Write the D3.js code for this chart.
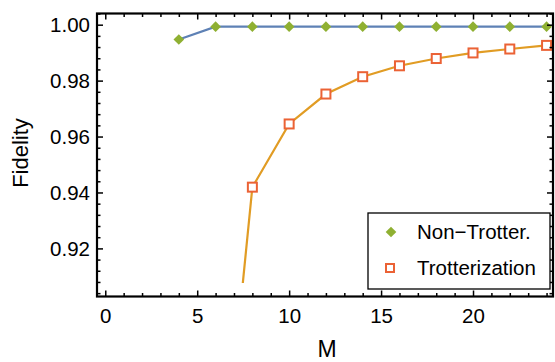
<!DOCTYPE html>
<html>
<head>
<meta charset="utf-8">
<script src="https://cdn.jsdelivr.net/npm/d3@7"></script>
<style>
  body { margin: 0; background: #fff; }
  text { font-family: "Liberation Sans", Arial, sans-serif; }
</style>
</head>
<body>
<div id="chart"></div>
<script>
// data
var mNonTrotter = [4, 6, 8, 10, 12, 14, 16, 18, 20, 22, 24];
var fNonTrotter = [0.9947, 0.9993, 0.9993, 0.9993, 0.9993, 0.9993, 0.9993, 0.9993, 0.9993, 0.9993, 0.9993];
var mTrotter = [6, 8, 10, 12, 14, 16, 18, 20, 22, 24];
var fTrotter = [0.810, 0.9419, 0.9645, 0.9752, 0.9814, 0.9853, 0.9879, 0.9899, 0.9913, 0.9926];
var xMajor = [0, 5, 10, 15, 20];
var yMajor = [0.92, 0.94, 0.96, 0.98, 1.00];
var legendNames = ["Non\u2212Trotter.", "Trotterization"];

drawChart();

function drawChart() {
    var width = 555, height = 362;
    var pLeft = 97, pRight = 553, pTop = 13.5, pBottom = 296.5;

    var svg = d3.select('#chart').append('svg')
        .attr('width', width)
        .attr('height', height);

    var x = d3.scaleLinear().domain([-0.45, 24.35]).range([pLeft, pRight]);
    var y = d3.scaleLinear().domain([0.9028, 1.004]).range([pBottom, pTop]);

    var xMinor = d3.range(0, 25).filter(d => d % 5 != 0);
    var yMinor = d3.range(0, 26).filter(d => d % 5 != 4).map(d => 0.904 + d * 0.004);

    // clip to the plot range (Mathematica cuts the lines above the padding)
    var clipBottom = y(0.9076);
    svg.append('clipPath').attr('id', 'clip')
        .append('rect').attr('x', pLeft).attr('y', pTop)
        .attr('width', pRight - pLeft).attr('height', clipBottom - pTop);

    var plot = svg.append('g').attr('clip-path', 'url(#clip)');

    var line = d3.line().x(d => x(d[0])).y(d => y(d[1]));
    var nt = mNonTrotter.map((m, i) => [m, fNonTrotter[i]]);
    var tr = mTrotter.map((m, i) => [m, fTrotter[i]]);

    plot.append('path').datum(tr).attr('d', line)
        .attr('fill', 'none').attr('stroke', '#E19C24').attr('stroke-width', 2.2);
    plot.append('path').datum(nt).attr('d', line)
        .attr('fill', 'none').attr('stroke', '#5E81B5').attr('stroke-width', 2.2);

    var diamond = d3.symbol().type(d3.symbolDiamond2).size(72);
    plot.selectAll('.dia').data(nt).enter().append('path')
        .attr('transform', d => 'translate(' + x(d[0]) + ',' + y(d[1]) + ')')
        .attr('d', diamond).attr('fill', '#8FB032');

    plot.selectAll('.sq').data(tr).enter().append('rect')
        .attr('x', d => x(d[0]) - 4.5).attr('y', d => y(d[1]) - 4.5)
        .attr('width', 9).attr('height', 9)
        .attr('fill', '#fff').attr('stroke', '#EB6235').attr('stroke-width', 2);

    // axes with inward ticks
    function ax(gen, tx, major, minor, labels) {
        var g = svg.append('g').attr('transform', tx);
        g.call(gen.tickValues(minor).tickSize(-3.5).tickFormat(''));
        var g2 = svg.append('g').attr('transform', tx);
        g2.call(gen.tickValues(major).tickSize(-6).tickFormat(labels ? labels : ''));
        [g, g2].forEach(s => {
            s.select('.domain').remove();
            s.selectAll('line').attr('stroke', '#000').attr('stroke-width', 1.5);
            s.selectAll('text').attr('font-size', 20.5).attr('fill', '#000');
        });
        return g2;
    }
    var gb = ax(d3.axisBottom(x), 'translate(0,' + pBottom + ')', xMajor, xMinor, d3.format('d'));
    gb.selectAll('text').attr('dy', null).attr('y', 26);
    ax(d3.axisTop(x), 'translate(0,' + pTop + ')', xMajor, xMinor, null);
    var gl = ax(d3.axisLeft(y), 'translate(' + pLeft + ',0)', yMajor, yMinor, d3.format('.2f'));
    gl.selectAll('text').attr('x', -7).attr('dy', '0.35em');
    ax(d3.axisRight(y), 'translate(' + pRight + ',0)', yMajor, yMinor, null);

    // frame
    svg.append('rect').attr('x', pLeft).attr('y', pTop)
        .attr('width', pRight - pLeft).attr('height', pBottom - pTop)
        .attr('fill', 'none').attr('stroke', '#000').attr('stroke-width', 2.2);

    // axis labels
    svg.append('text').attr('x', 327).attr('y', 357).attr('text-anchor', 'middle')
        .attr('font-size', 23).text('M');
    svg.append('text').attr('transform', 'translate(28,153) rotate(-90)').attr('text-anchor', 'middle')
        .attr('font-size', 22).text('Fidelity');

    // legend
    var lg = svg.append('g');
    lg.append('rect').attr('x', 368).attr('y', 213).attr('width', 182).attr('height', 76)
        .attr('fill', '#fff').attr('stroke', '#000').attr('stroke-width', 1.3);
    lg.append('path').attr('transform', 'translate(391,232)').attr('d', diamond).attr('fill', '#8FB032');
    lg.append('rect').attr('x', 386).attr('y', 264).attr('width', 8).attr('height', 8)
        .attr('fill', '#fff').attr('stroke', '#EB6235').attr('stroke-width', 2);
    lg.selectAll('.lt').data(legendNames).enter().append('text')
        .attr('x', 417).attr('y', (d, i) => 239 + i * 36)
        .attr('font-size', 20.5).text(d => d);
}
</script>
</body>
</html>
